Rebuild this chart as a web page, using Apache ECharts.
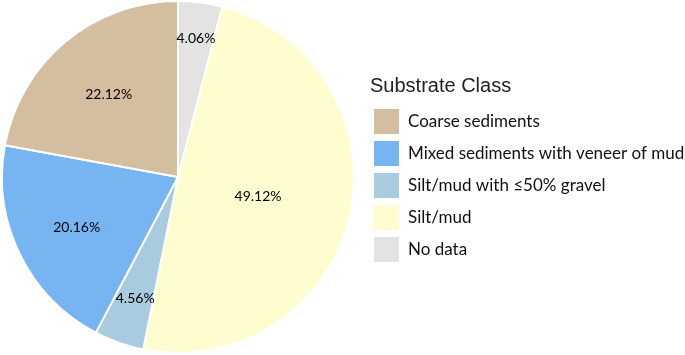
<!DOCTYPE html>
<html>
<head>
<meta charset="utf-8">
<script src="https://cdn.jsdelivr.net/npm/echarts@6/dist/echarts.min.js"></script>
<style>html,body{margin:0;padding:0;background:#fff}#c{width:685px;height:355px}</style>
</head>
<body>
<div id="c"></div>
<script>
// Data (clockwise from 12 o'clock)
const categories = ["No data", "Silt/mud", "Silt/mud with ≤50% gravel", "Mixed sediments with veneer of mud", "Coarse sediments"];
const values = [4.06, 49.12, 4.56, 20.16, 22.12];
const legendOrder = ["Coarse sediments", "Mixed sediments with veneer of mud", "Silt/mud with ≤50% gravel", "Silt/mud", "No data"];
const colors = ["#E3E3E3", "#FFFDD0", "#A9CBE0", "#77B5F2", "#D4BEA0"];
const labelRatios = [0.80, 0.467, 0.725, 0.64, 0.615];

const CX = 178, CY = 177, R = 176;
const total = values.reduce((a, b) => a + b, 0);
const midAngles = [];
{ let acc = 0; values.forEach(v => { midAngles.push((acc + v / 2) / total * 2 * Math.PI); acc += v; }); }

const chart = echarts.init(document.getElementById('c'), null, {renderer: 'canvas'});
chart.setOption({
  animation: false,
  title: {
    text: 'Substrate Class', left: 370, top: 76, padding: 0,
    textStyle: {fontFamily: 'Liberation Sans', fontWeight: 'normal', fontSize: 20, color: '#222'}
  },
  legend: {
    orient: 'vertical', left: 372, top: 107, padding: 0,
    data: legendOrder, icon: 'rect', itemWidth: 27, itemHeight: 27, itemGap: 3,
    textStyle: {fontFamily: 'Lato', fontSize: 17, lineHeight: 20, color: '#111', padding: [0, 0, 0, 3]},
    selectedMode: false
  },
  series: [{
    type: 'pie',
    center: [CX, CY], radius: [0, R],
    startAngle: 90, clockwise: true,
    color: colors,
    itemStyle: {borderColor: '#fff', borderWidth: 2},
    label: {
      show: true, position: 'inside',
      formatter: p => p.value.toFixed(2) + '%',
      fontFamily: 'Lato', fontSize: 14, color: '#000'
    },
    labelLine: {show: false},
    emphasis: {disabled: true},
    data: categories.map((n, i) => ({name: n, value: values[i]})),
    labelLayout: function (params) {
      const i = params.dataIndex;
      const d = labelRatios[i] * R, a = midAngles[i];
      return {x: CX + d * Math.sin(a), y: CY - d * Math.cos(a) + 1, align: 'center', verticalAlign: 'middle'};
    }
  }]
});
</script>
</body>
</html>
